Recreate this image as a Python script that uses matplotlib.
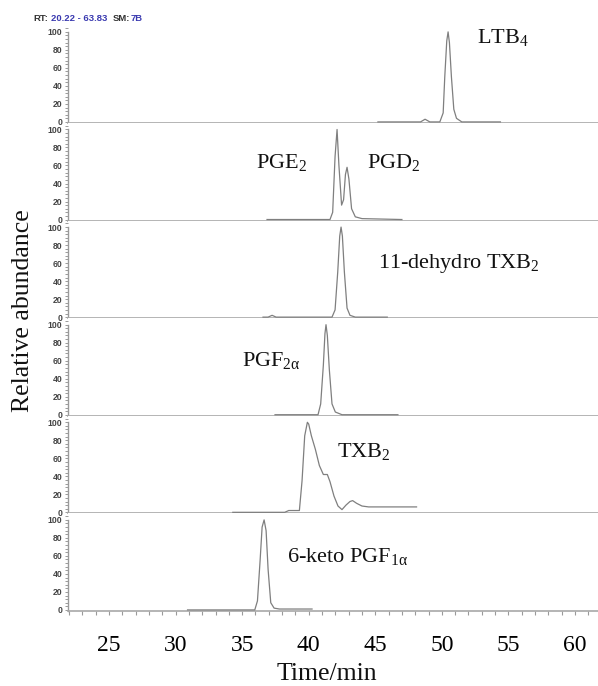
import matplotlib
matplotlib.use("Agg")
import matplotlib.pyplot as plt
from matplotlib.ticker import MultipleLocator

plt.rcParams['mathtext.fontset'] = 'custom'
plt.rcParams['mathtext.rm'] = 'Liberation Serif'
plt.rcParams['mathtext.it'] = 'Liberation Serif'

# traces (time in min, relative abundance in %)
ltb4_t = [45.2, 48.4, 48.74, 49.1, 49.85, 50.1, 50.22, 50.37, 50.47, 50.57, 50.72, 50.9, 51.1, 51.5, 54.4]
ltb4_y = [0, 0, 3, 0, 0, 10, 50, 90, 100, 88, 50, 14, 4, 0, 0]

pge_t = [36.87, 41.6, 41.8, 41.98, 42.13, 42.27, 42.47, 42.62, 42.76, 42.88, 43.02, 43.22, 43.5, 44.0, 47.0]
pge_y = [0, 0, 8, 70, 100, 60, 16, 22, 50, 58, 45, 12, 3, 1, 0]

dtxb_t = [36.57, 36.95, 37.25, 37.55, 41.75, 41.98, 42.18, 42.33, 42.43, 42.53, 42.68, 42.88, 43.1, 43.5, 45.9]
dtxb_y = [0, 0, 2, 0, 0, 8, 50, 90, 100, 90, 50, 10, 2, 0, 0]

pgf2_t = [37.47, 40.7, 40.9, 41.1, 41.22, 41.3, 41.4, 41.55, 41.75, 42.0, 42.5, 46.7]
pgf2_y = [0, 0, 12, 55, 90, 100, 88, 50, 12, 3, 0, 0]

txb_t = [34.3, 38.2, 38.5, 39.3, 39.5, 39.7, 39.9, 40.0, 40.2, 40.5, 40.8, 41.1, 41.4, 41.6,
         41.9, 42.2, 42.5, 42.8, 43.1, 43.3, 43.6, 44.0, 44.5, 45.5, 46.5, 48.1]
txb_y = [0, 0, 2, 2, 35, 85, 100, 98, 85, 70, 52, 42, 42, 34,
         18, 7, 3, 8, 12, 13, 10, 7, 6, 6, 6, 6]

keto_t = [30.9, 35.95, 36.15, 36.35, 36.5, 36.65, 36.8, 36.95, 37.15, 37.4, 37.8, 40.25]
keto_y = [0, 0, 10, 55, 92, 100, 88, 45, 8, 2, 1, 1]

traces = [(ltb4_t, ltb4_y), (pge_t, pge_y), (dtxb_t, dtxb_y),
          (pgf2_t, pgf2_y), (txb_t, txb_y), (keto_t, keto_y)]

# peak names: (panel, text, x in min, y in %)
labels = [
    (0, r'LTB$_4$', 52.65, 87.8),
    (1, r'PGE$_2$', 36.04, 57.3),
    (1, r'PGD$_2$', 44.38, 57.3),
    (2, r'11-dehydro TXB$_2$', 45.2, 54.7),
    (3, r'PGF$_{2\alpha}$', 35.0, 54.2),
    (4, r'TXB$_2$', 42.13, 61.6),
    (5, r'6-keto PGF$_{1\alpha}$', 38.37, 53.3),
]

x_ticks = [25, 30, 35, 40, 45, 50, 55, 60]
y_ticks = [0, 20, 40, 60, 80, 100]

fig = plt.figure(figsize=(5.98, 6.86), dpi=100)
gs = fig.add_gridspec(6, 1, left=68 / 598, right=1.0, bottom=1 - 611 / 686,
                      top=1 - 25.4 / 686, hspace=0)

axes = []
for i, (t, y) in enumerate(traces):
    ax = fig.add_subplot(gs[i])
    axes.append(ax)
    ax.plot(t, y, color='#7f7f7f', lw=0.9, zorder=3)
    ax.set_xlim(21.92, 61.73)
    ax.set_ylim(-1.2, 107.2)
    for s in ['top', 'right']:
        ax.spines[s].set_visible(False)
    ax.spines['left'].set_bounds(-1.2, 100)
    ax.spines['left'].set_color('#9a9a9a')
    ax.spines['bottom'].set_color('#a8a8a8')
    ax.spines['left'].set_linewidth(1.0)
    ax.spines['bottom'].set_linewidth(1.2)
    ax.set_yticks(y_ticks)
    ax.yaxis.set_minor_locator(MultipleLocator(4))
    ax.tick_params(axis='y', which='both', direction='out', color='#9a9a9a',
                   length=2.5, width=0.7, pad=1.5, labelsize=6.2, labelcolor='#444444')
    for lab in ax.get_yticklabels():
        lab.set_fontweight('bold')
        lab.set_family('Liberation Sans')
    ax.set_xticks(x_ticks)
    ax.xaxis.set_minor_locator(MultipleLocator(1))
    if i < 5:
        ax.tick_params(axis='x', which='both', bottom=False, labelbottom=False)
    else:
        ax.tick_params(axis='x', which='both', direction='out', color='#9a9a9a',
                       length=3, width=0.8, pad=14, labelsize=17)
        for lab in ax.get_xticklabels():
            lab.set_family('Liberation Serif')

for panel, txt, tx, ty in labels:
    axes[panel].text(tx, ty, txt, fontsize=16, family='Liberation Serif',
                     ha='left', va='baseline', color='#111111')

fig.text(23 / 598, 1 - 311 / 686, 'Relative abundance', rotation=90, ha='center',
         va='center', fontsize=18.5, family='Liberation Serif', color='#111111')
fig.text(327 / 598, 1 - 674 / 686, 'Time/min', ha='center', va='center',
         fontsize=18.5, family='Liberation Serif', color='#111111')

# header line
hy = 1 - 18.5 / 686
hdr = [('RT:', '#333333', 33), ('20.22 - 63.83', '#3a3ab0', 51),
       ('SM:', '#333333', 113), ('7B', '#3a3ab0', 131)]
for s, c, px in hdr:
    fig.text(px / 598, hy, s, color=c, fontsize=6.8, fontweight='bold',
             family='Liberation Sans', ha='left', va='center')

fig.savefig('out.png', dpi=100)
